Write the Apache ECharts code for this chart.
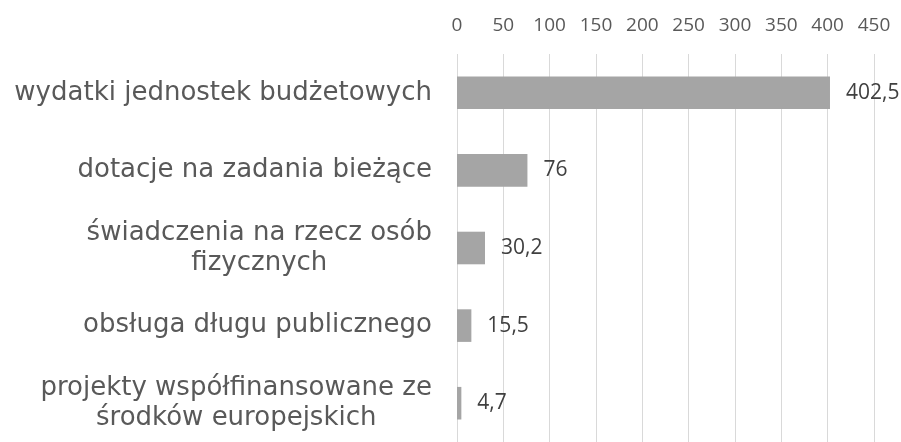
<!DOCTYPE html>
<html>
<head>
<meta charset="utf-8">
<script src="https://cdn.jsdelivr.net/npm/echarts@6/dist/echarts.min.js"></script>
<style>
  html, body { margin: 0; padding: 0; background: #fff; }
  #chart { width: 901px; height: 442px; }
</style>
</head>
<body>
<div id="chart"></div>
<script>
// Expenditure categories (top to bottom) and their amounts
const categories = [
  'wydatki jednostek budżetowych',
  'dotacje na zadania bieżące',
  'świadczenia na rzecz osób\nfizycznych',
  'obsługa długu publicznego',
  'projekty współfinansowane ze\nśrodków europejskich'
];
const values = [402.5, 76, 30.2, 15.5, 4.7];
const axisMax = 450;
const axisStep = 50;

const chart = echarts.init(document.getElementById('chart'), null, { renderer: 'canvas' });

const catFont = 'DejaVu Sans';
const numFont = 'Open Sans';

chart.setOption({
  animation: false,
  backgroundColor: '#ffffff',
  grid: { left: 457, right: 27, top: 54, bottom: -5, containLabel: false },
  xAxis: {
    type: 'value',
    position: 'top',
    min: 0,
    max: axisMax,
    interval: axisStep,
    axisLine: { show: false },
    axisTick: { show: false },
    splitLine: { show: true, lineStyle: { color: '#d9d9d9', width: 1 } },
    axisLabel: { color: '#595959', fontFamily: numFont, fontSize: 19, margin: 19 }
  },
  yAxis: {
    type: 'category',
    inverse: true,
    data: categories,
    axisLine: { show: false },
    axisTick: { show: false },
    axisLabel: {
      margin: 25,
      // wrapped labels: each line centred within the right-aligned block
      formatter: v => v.split('\n').map(l => '{c|' + l + '}').join('\n'),
      rich: {
        c: { align: 'center', fontFamily: catFont, fontSize: 26, color: '#595959', lineHeight: 30 }
      }
    }
  },
  series: [{
    type: 'bar',
    data: values,
    barWidth: '42%',
    itemStyle: { color: '#a5a5a5' },
    label: {
      show: true,
      position: 'right',
      distance: 16,
      color: '#404040',
      fontFamily: numFont,
      fontSize: 21,
      formatter: p => String(p.value).replace('.', ',')
    }
  }]
});
</script>
</body>
</html>
